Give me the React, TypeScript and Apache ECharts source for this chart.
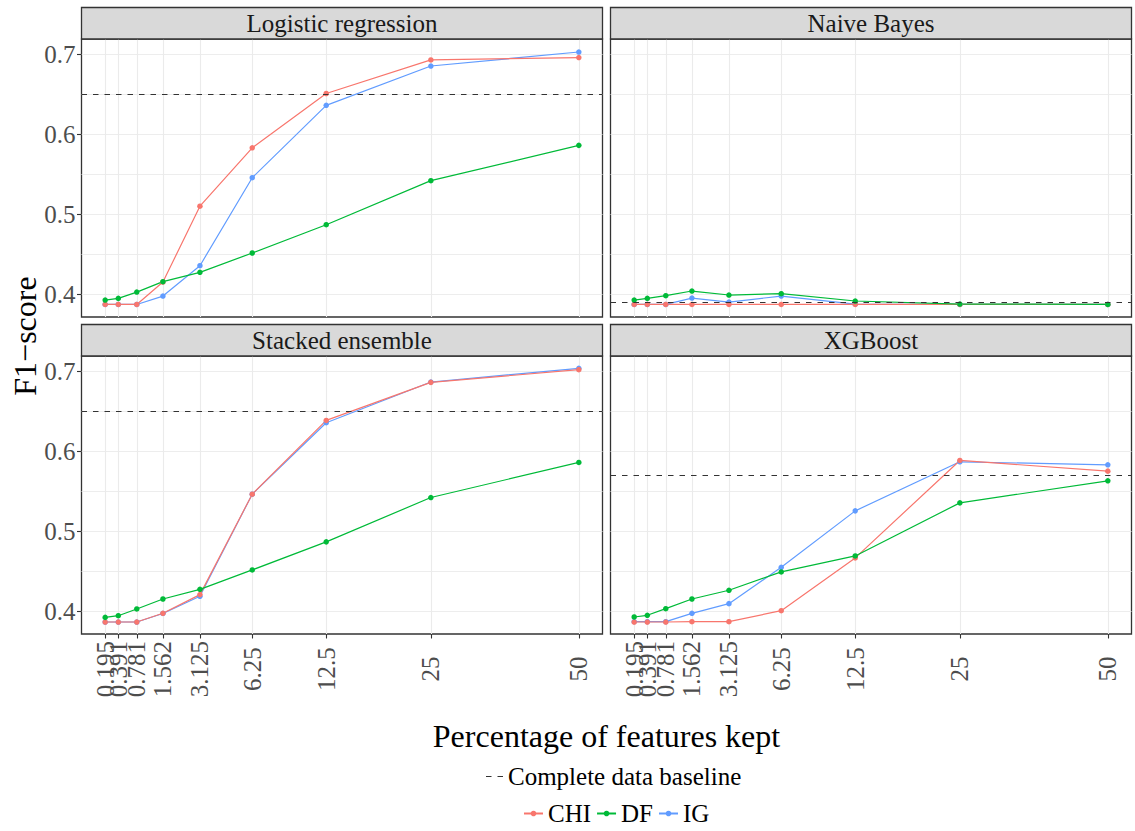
import React, { useEffect, useRef } from "react";
import * as echarts from "echarts";

// ---- data ----
const percentKept = [0.195, 0.391, 0.781, 1.562, 3.125, 6.25, 12.5, 25, 50];
const percentLabels = ["0.195", "0.391", "0.781", "1.562", "3.125", "6.25", "12.5", "25", "50"];
const models = ["Logistic regression", "Naive Bayes", "Stacked ensemble", "XGBoost"];
const methods = ["CHI", "DF", "IG"];
const methodColors = ["#F8766D", "#00BA38", "#619CFF"];
const baselineName = "Complete data baseline";

const lrCHI = [0.387, 0.387, 0.387, 0.415, 0.51, 0.583, 0.651, 0.693, 0.696];
const lrDF = [0.3925, 0.3946, 0.4025, 0.4155, 0.4272, 0.4514, 0.4868, 0.5419, 0.5861];
const lrIG = [0.387, 0.387, 0.387, 0.3975, 0.4355, 0.5456, 0.6362, 0.6854, 0.7029];

const nbCHI = [0.387, 0.387, 0.387, 0.387, 0.387, 0.387, 0.387, 0.387, 0.387];
const nbDF = [0.3925, 0.3946, 0.398, 0.4038, 0.3988, 0.4005, 0.3913, 0.3875, 0.387];
const nbIG = [0.387, 0.387, 0.387, 0.395, 0.39, 0.3975, 0.3875, 0.387, 0.387];

const seCHI = [0.3863, 0.3863, 0.3863, 0.3972, 0.4206, 0.5463, 0.6386, 0.6862, 0.7021];
const seDF = [0.3921, 0.3942, 0.4026, 0.4151, 0.4272, 0.4515, 0.4866, 0.5421, 0.586];
const seIG = [0.3863, 0.3863, 0.3863, 0.397, 0.4185, 0.5463, 0.6357, 0.6866, 0.7038];

const xgCHI = [0.3863, 0.3863, 0.3863, 0.3867, 0.3867, 0.4005, 0.4665, 0.5885, 0.5751];
const xgDF = [0.3926, 0.3947, 0.403, 0.4151, 0.426, 0.449, 0.469, 0.5354, 0.563];
const xgIG = [0.3867, 0.3867, 0.3867, 0.3972, 0.4093, 0.4548, 0.5254, 0.5868, 0.583];

const modelValues = [
  [lrCHI, lrDF, lrIG],
  [nbCHI, nbDF, nbIG],
  [seCHI, seDF, seIG],
  [xgCHI, xgDF, xgIG],
];
const baselines = [0.647, 0.387, 0.65, 0.571];

const yTicks = [0.4, 0.5, 0.6, 0.7];
const yGridLines = [0.4, 0.45, 0.5, 0.55, 0.6, 0.65, 0.7];

// ---- layout ----
const FONT = "'Liberation Serif', 'Times New Roman', serif";
const PANEL_W = 521;
const PANEL_H = 278;
const LEFTS = [81.5, 610.5, 81.5, 610.5];
const TOPS = [39, 39, 356, 356];
const STRIP_H = 31.5;
const Y_MIN = 0.3713;
const Y_MAX = 0.7192;
const DASH = [5.5, 6];

const xSqrt = percentKept.map((v) => Math.sqrt(v));
const xRange = xSqrt[xSqrt.length - 1] - xSqrt[0];
const X_MIN = xSqrt[0] - 0.05 * xRange;
const X_MAX = xSqrt[xSqrt.length - 1] + 0.05 * xRange;
// labels split over two stacked axes so that ECharts does not drop overlapping ones
const xLabelsA = xSqrt.filter((_, i) => i % 2 === 0);
const xLabelsB = xSqrt.filter((_, i) => i % 2 === 1);

function labelFor(v: number): string {
  let best = 0;
  for (let i = 0; i < xSqrt.length; i++) {
    if (Math.abs(xSqrt[i] - v) < Math.abs(xSqrt[best] - v)) best = i;
  }
  return percentLabels[best];
}

const xLabelStyle = {
  rotate: 90,
  align: "center",
  verticalAlign: "middle",
  margin: 35,
  hideOverlap: false,
  fontFamily: FONT,
  fontSize: 25,
  color: "#4D4D4D",
  formatter: (v: number) => labelFor(v),
};

export default function App() {
  const ref = useRef<HTMLDivElement>(null);
  useEffect(() => {
    if (!ref.current) return;
    const chart = echarts.init(ref.current, null, { renderer: "svg" });

    const grids: any[] = [];
    const xAxes: any[] = [];
    const yAxes: any[] = [];
    const series: any[] = [];
    const graphics: any[] = [];

    for (let g = 0; g < 4; g++) {
      const bottomRow = g >= 2;
      const leftCol = g % 2 === 0;
      grids.push({
        left: LEFTS[g],
        top: TOPS[g],
        width: PANEL_W,
        height: PANEL_H,
        show: true,
        borderColor: "#333333",
        borderWidth: 1.3,
        backgroundColor: "#FFFFFF",
      });
      const xIdx = xAxes.length;
      xAxes.push({
        type: "value",
        gridIndex: g,
        min: X_MIN,
        max: X_MAX,
        position: "bottom",
        axisLine: { show: false },
        axisTick: {
          show: bottomRow,
          length: 4.5,
          customValues: xSqrt,
          lineStyle: { color: "#333333", width: 1.1 },
        },
        axisLabel: { ...xLabelStyle, show: bottomRow, customValues: xLabelsA },
        splitLine: { show: true, lineStyle: { color: "#EBEBEB", width: 1.1 } },
      });
      if (bottomRow) {
        xAxes.push({
          type: "value",
          gridIndex: g,
          min: X_MIN,
          max: X_MAX,
          position: "bottom",
          offset: 0,
          axisLine: { show: false },
          axisTick: { show: false, customValues: xLabelsB },
          axisLabel: { ...xLabelStyle, show: true, customValues: xLabelsB },
          splitLine: { show: false },
        });
      }
      const yIdx = yAxes.length;
      yAxes.push({
        type: "value",
        gridIndex: g,
        min: Y_MIN,
        max: Y_MAX,
        axisLine: { show: false },
        axisTick: {
          show: leftCol,
          length: 4.5,
          customValues: yTicks,
          lineStyle: { color: "#333333", width: 1.1 },
        },
        axisLabel: {
          show: leftCol,
          customValues: yTicks,
          margin: 6,
          fontFamily: FONT,
          fontSize: 25,
          color: "#4D4D4D",
          formatter: (v: number) => v.toFixed(1),
        },
        splitLine: { show: false },
      });
      yAxes.push({
        type: "value",
        gridIndex: g,
        min: Y_MIN,
        max: Y_MAX,
        position: "left",
        axisLine: { show: false },
        axisTick: { show: false, customValues: yGridLines },
        axisLabel: { show: false, customValues: yGridLines },
        splitLine: { show: true, lineStyle: { color: "#EBEBEB", width: 0.9 } },
      });

      const order = [2, 0, 1];
      for (const m of order) {
        series.push({
          type: "line",
          name: methods[m],
          xAxisIndex: xIdx,
          yAxisIndex: yIdx,
          data: xSqrt.map((x, i) => [x, modelValues[g][m][i]]),
          symbol: "circle",
          symbolSize: 5.5,
          showSymbol: true,
          color: methodColors[m],
          lineStyle: { width: 1.2, color: methodColors[m] },
          itemStyle: { color: methodColors[m] },
          z: 3,
          silent: true,
        });
      }
      series.push({
        type: "line",
        name: baselineName,
        xAxisIndex: xIdx,
        yAxisIndex: yIdx,
        data: [],
        symbol: "none",
        color: "#333333",
        lineStyle: { color: "#333333", width: 1.2, type: DASH },
        z: 5,
        silent: true,
        markLine: {
          silent: true,
          symbol: ["none", "none"],
          label: { show: false },
          lineStyle: { color: "#333333", width: 1.2, type: DASH },
          data: [{ yAxis: baselines[g] }],
          z: 5,
        },
      });

      graphics.push({
        type: "rect",
        shape: { x: LEFTS[g], y: TOPS[g] - STRIP_H, width: PANEL_W, height: STRIP_H },
        style: { fill: "#D9D9D9", stroke: "#333333", lineWidth: 1.3 },
        z: 10,
      });
      graphics.push({
        type: "text",
        x: LEFTS[g] + PANEL_W / 2,
        y: TOPS[g] - STRIP_H / 2,
        style: {
          text: models[g],
          fontFamily: FONT,
          fontSize: 25,
          fill: "#1A1A1A",
          align: "center",
          verticalAlign: "middle",
        },
        z: 11,
      });
    }

    graphics.push({
      type: "text",
      x: 25,
      y: 336,
      rotation: Math.PI / 2,
      style: {
        text: "F1\u2212score",
        fontFamily: FONT,
        fontSize: 32,
        fill: "#000000",
        align: "center",
        verticalAlign: "middle",
      },
    });
    graphics.push({
      type: "text",
      x: 606.5,
      y: 736,
      style: {
        text: "Percentage of features kept",
        fontFamily: FONT,
        fontSize: 32,
        fill: "#000000",
        align: "center",
        verticalAlign: "middle",
      },
    });

    chart.setOption({
      animation: false,
      backgroundColor: "#FFFFFF",
      grid: grids,
      xAxis: xAxes,
      yAxis: yAxes,
      series,
      graphic: graphics,
      legend: [
        {
          data: [
            {
              name: baselineName,
              icon: "path://M0,0h5.5v1.2h-5.5z M11.5,0h5.5v1.2h-5.5z",
              itemStyle: { color: "#333333" },
            },
          ],
          left: 481,
          top: 759,
          itemWidth: 17,
          itemHeight: 1.3,
          itemGap: 5,
          textStyle: { fontFamily: FONT, fontSize: 25, color: "#000000" },
          selectedMode: false,
        },
        {
          data: methods,
          left: 518,
          top: 796,
          itemWidth: 19,
          itemHeight: 7,
          itemGap: 5,
          textStyle: { fontFamily: FONT, fontSize: 25, color: "#000000" },
          selectedMode: false,
        },
      ],
    });
    return () => chart.dispose();
  }, []);

  return (
    <div
      ref={ref}
      style={{ position: "fixed", left: 0, top: 0, width: 1135, height: 831 }}
    />
  );
}
